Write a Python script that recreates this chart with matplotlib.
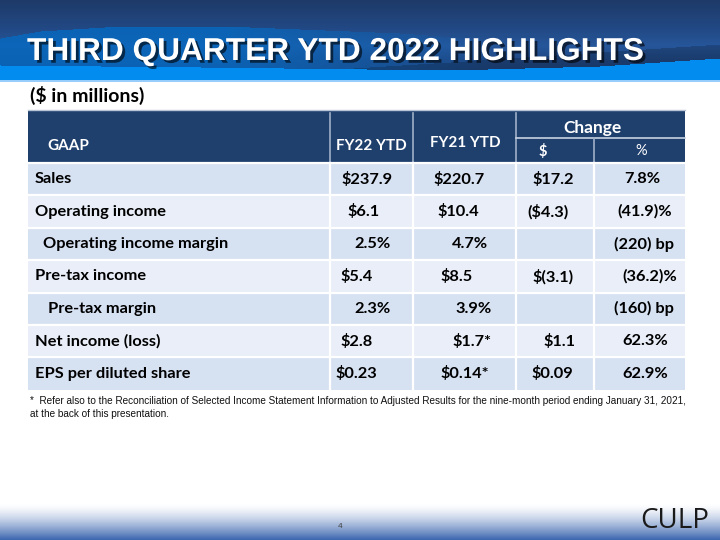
import numpy as np
import matplotlib
matplotlib.use('Agg')
import matplotlib.pyplot as plt
from matplotlib.patches import Rectangle
from matplotlib import patheffects as pe

# slide texts
title = 'THIRD QUARTER YTD 2022 HIGHLIGHTS'
unit_note = '($ in millions)'
first_header = 'GAAP'
col_headers = ['FY22 YTD', 'FY21 YTD']
change_header = 'Change'
change_sub = ['$', '%']

# table data
row_labels = ['Sales', 'Operating income', 'Operating income margin', 'Pre-tax income',
              'Pre-tax margin', 'Net income (loss)', 'EPS per diluted share']
fy22 = ['$237.9', '$6.1', '2.5%', '$5.4', '2.3%', '$2.8', '$0.23']
fy21 = ['$220.7', '$10.4', '4.7%', '$8.5', '3.9%', '$1.7*', '$0.14*']
chg_dollar = ['$17.2', '($4.3)', '', '$(3.1)', '', '$1.1', '$0.09']
chg_pct = ['7.8%', '(41.9)%', '(220) bp', '(36.2)%', '(160) bp', '62.3%', '62.9%']

footnote = ('*  Refer also to the Reconciliation of Selected Income Statement Information to Adjusted '
            'Results for the nine-month period ending January 31, 2021,\nat the back of this presentation.')
page_no = '4'
logo = 'CULP'

# layout (pixels)
col_edges = [28, 330, 413, 516, 594, 685]
head_top, head_bot, change_split = 110, 163, 138
row_h = 32.4
label_x = [35, 35, 43, 35, 48, 35, 35]
fy22_x = [341, 347, 354, 340, 354, 340, 335]
fy21_x = [433, 437, 452, 440, 455, 452, 440]
chg_d_x = [532, 527, 0, 532, 0, 543, 531]
chg_p_x = [624, 617, 614, 622, 614, 622, 622]

navy = '#1f3f6d'
row_dark = '#d6e1f2'
row_light = '#e9eef8'
tfont = 'Lato'

fig = plt.figure(figsize=(7.2, 5.4), dpi=100)
ax = fig.add_axes([0, 0, 1, 1])
ax.set_xlim(0, 720)
ax.set_ylim(540, 0)
ax.axis('off')

# ---- top banner
W, H = 720, 82
xx, yy = np.meshgrid(np.arange(W), np.arange(H))
stops_y = [0, 30, 45, 60, 82]
stops_c = np.array([[30, 58, 104], [34, 74, 134], [38, 86, 154], [32, 72, 132], [28, 64, 118]])
img = np.zeros((H, W, 3))
for k in range(3):
    img[..., k] = np.interp(yy, stops_y, stops_c[:, k])
band_top = np.interp(xx, [0, 200, 450, 600, 720], [65, 67, 70, 66, 58])
wave_top = np.interp(xx, [0, 40, 120, 250, 400, 550, 720], [38, 31, 26, 27, 33, 44, 56])
wave_a = np.clip(1 - (xx - 220) / 280.0, 0.0, 1.0) * 0.85
m = (yy > wave_top) & (yy < band_top)
med = np.array([8, 104, 190])
for k in range(3):
    img[..., k] = np.where(m, img[..., k] * (1 - wave_a) + med[k] * wave_a, img[..., k])
dark_top = np.interp(xx, [0, 450, 600, 720], [90, 62, 52, 44])
md = (yy > dark_top) & (yy < band_top)
for k in range(3):
    img[..., k] = np.where(md, img[..., k] * 0.82, img[..., k])
mb = (yy >= band_top) & (yy < 80)
bright = np.array([2, 140, 240])
for k in range(3):
    img[..., k] = np.where(mb, bright[k], img[..., k])
img[80:, :, :] = [150, 205, 250]
ax.imshow(img.astype(np.uint8), extent=(0, 720, 82, 0), aspect='auto', zorder=0,
          interpolation='bilinear')

ax.text(27, 60, title, color='white', fontsize=22.8, fontweight='bold', family='Liberation Sans',
        va='baseline', ha='left', zorder=3,
        path_effects=[pe.withSimplePatchShadow(offset=(2, -2), shadow_rgbFace='black', alpha=0.6)])

# ---- bottom gradient
gy = np.linspace(0, 1, 60)[:, None]
t = np.clip((gy - 0.4) / 0.6, 0, 1) ** 1.4
top_c = np.array([1.0, 1.0, 1.0])
bot_c = np.array([62, 104, 176]) / 255
grad = top_c * (1 - t[..., None]) + bot_c * t[..., None]
grad = np.repeat(grad, 2, axis=1)
ax.imshow(grad, extent=(0, 720, 540, 480), aspect='auto', zorder=0)

ax.text(30, 95, unit_note, fontsize=14, fontweight='bold', family=tfont, va='center', ha='left')

# ---- table header
ax.add_patch(Rectangle((col_edges[0], head_top), col_edges[-1] - col_edges[0], head_bot - head_top,
                       facecolor=navy, edgecolor='none', zorder=1))
ax.plot([col_edges[0], col_edges[-1]], [head_top, head_top], color='#b8c4d6', lw=1, zorder=2)
for xe in col_edges[1:4]:
    ax.plot([xe, xe], [head_top + 3, head_bot], color='#9fb0c8', lw=1.2, zorder=2)
ax.plot([col_edges[3], col_edges[5]], [change_split, change_split], color='#c8d2e2', lw=1.2, zorder=2)
ax.plot([col_edges[4], col_edges[4]], [change_split, head_bot], color='#9fb0c8', lw=1.2, zorder=2)

hkw = dict(color='white', fontsize=11, fontweight='bold', family=tfont, zorder=3)
ax.text(47, 146, first_header, va='center', ha='left', **hkw)
ax.text(371, 146, col_headers[0], va='center', ha='center', **hkw)
ax.text(465, 143, col_headers[1], va='center', ha='center', **hkw)
ax.text(593, 128, change_header, va='center', ha='center', **dict(hkw, fontsize=12.5))
ax.text(543, 151, change_sub[0], va='center', ha='center', **dict(hkw, fontsize=10.5))
ax.text(641, 151, change_sub[1], va='center', ha='center', **dict(hkw, fontsize=10.5, fontweight='normal'))

# ---- table body
bkw = dict(color='black', fontsize=11.8, fontweight='bold', family=tfont, va='center', ha='left', zorder=3)
for i, lab in enumerate(row_labels):
    y0 = head_bot + i * row_h
    yc = y0 + row_h / 2
    ax.add_patch(Rectangle((col_edges[0], y0), col_edges[-1] - col_edges[0], row_h,
                           facecolor=row_dark if i % 2 == 0 else row_light, edgecolor='none', zorder=1))
    ax.plot([col_edges[0], col_edges[-1]], [y0, y0], color='white', lw=1.6, zorder=2)
    ax.text(label_x[i], yc, lab, **bkw)
    ax.text(fy22_x[i], yc, fy22[i], **bkw)
    ax.text(fy21_x[i], yc, fy21[i], **bkw)
    if chg_dollar[i]:
        ax.text(chg_d_x[i], yc, chg_dollar[i], **bkw)
    ax.text(chg_p_x[i], yc, chg_pct[i], **bkw)
body_bot = head_bot + len(row_labels) * row_h
for xe in col_edges[1:5]:
    ax.plot([xe, xe], [head_bot, body_bot], color='white', lw=1.6, zorder=2)

ax.text(30, 396, footnote, fontsize=7.2, family='Liberation Sans', va='top', ha='left',
        linespacing=1.35, color='#111111')

ax.text(340, 527, page_no, fontsize=6, family='Liberation Sans', color='#444444', va='center', ha='center')
ax.text(640, 521, logo, fontsize=20, family='Open Sans', color='#1a1a1a', va='center', ha='left', zorder=3)

fig.savefig('out.png', dpi=100)
